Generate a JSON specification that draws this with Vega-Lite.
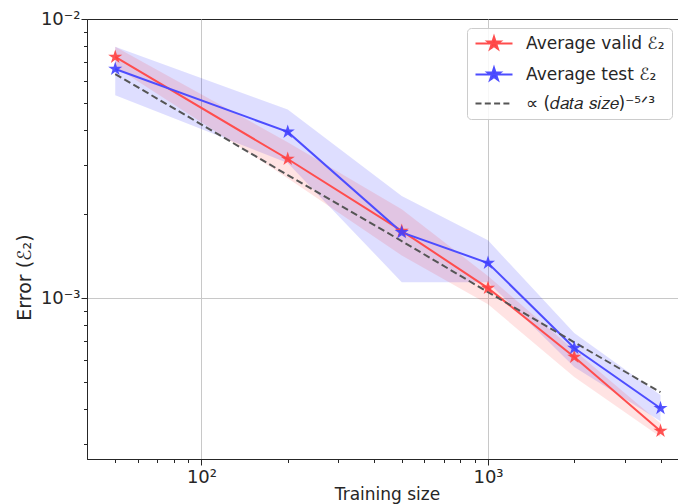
{
  "$schema": "https://vega.github.io/schema/vega-lite/v6.json",
  "width": 591,
  "height": 440,
  "autosize": "none",
  "padding": {"left": 87, "top": 19, "right": 0, "bottom": 45},
  "background": "white",
  "config": {
    "font": "DejaVu Sans",
    "view": {"stroke": "#262626", "strokeWidth": 1},
    "axis": {
      "labelFont": "DejaVu Sans", "labelFontSize": 18, "labelColor": "#262626",
      "titleFont": "DejaVu Sans", "titleFontSize": 17, "titleFontWeight": "normal", "titleColor": "#262626",
      "domainColor": "#262626", "tickColor": "#262626", "gridColor": "#c8c8c8", "gridWidth": 1
    }
  },
  "data": {
    "values": [
      {"size": 50, "series": "valid", "mean": 0.00731, "lo": 0.00675, "hi": 0.00795},
      {"size": 200, "series": "valid", "mean": 0.00315, "lo": 0.00269, "hi": 0.00362},
      {"size": 500, "series": "valid", "mean": 0.00174, "lo": 0.00142, "hi": 0.00208},
      {"size": 1000, "series": "valid", "mean": 0.001086, "lo": 0.00095, "hi": 0.0012},
      {"size": 2000, "series": "valid", "mean": 0.000615, "lo": 0.000521, "hi": 0.00065},
      {"size": 4000, "series": "valid", "mean": 0.000334, "lo": 0.000318, "hi": 0.000356},
      {"size": 50, "series": "test", "mean": 0.00662, "lo": 0.00533, "hi": 0.00796},
      {"size": 200, "series": "test", "mean": 0.00394, "lo": 0.00305, "hi": 0.00474},
      {"size": 500, "series": "test", "mean": 0.00172, "lo": 0.00114, "hi": 0.00232},
      {"size": 1000, "series": "test", "mean": 0.001335, "lo": 0.00114, "hi": 0.00161},
      {"size": 2000, "series": "test", "mean": 0.000662, "lo": 0.000566, "hi": 0.00075},
      {"size": 4000, "series": "test", "mean": 0.000403, "lo": 0.000362, "hi": 0.000449},
      {"size": 50, "series": "fit", "mean": 0.00635},
      {"size": 200, "series": "fit", "mean": 0.00276},
      {"size": 500, "series": "fit", "mean": 0.0016},
      {"size": 1000, "series": "fit", "mean": 0.00105},
      {"size": 2000, "series": "fit", "mean": 0.000694},
      {"size": 4000, "series": "fit", "mean": 0.00046}
    ]
  },
  "encoding": {
    "x": {
      "field": "size", "type": "quantitative",
      "scale": {"type": "log", "domain": [39.85, 4604], "nice": false},
      "axis": {
        "title": "Training size", "titleX": 300, "titlePadding": 0,
        "values": [50, 60, 70, 80, 90, 100, 200, 300, 400, 500, 600, 700, 800, 900, 1000, 2000, 3000, 4000],
        "labelExpr": "datum.value == 100 ? '10²' : (datum.value == 1000 ? '10³' : '')",
        "labelPadding": 3, "labelFlush": false, "labelOverlap": false,
        "tickSize": {"condition": {"test": "datum.value == 100 || datum.value == 1000", "value": 6}, "value": 3.5},
        "grid": true,
        "gridOpacity": {"condition": {"test": "datum.value == 100 || datum.value == 1000", "value": 1}, "value": 0}
      }
    }
  },
  "layer": [
    {
      "transform": [{"filter": "datum.series == 'test'"}],
      "mark": {"type": "area", "color": "#0000ff", "opacity": 0.13},
      "encoding": {
        "y": {
          "field": "lo", "type": "quantitative",
          "scale": {"type": "log", "domain": [0.000265, 0.01], "nice": false},
          "axis": {
            "title": "Error (ℰ₂)", "titleFontSize": 19, "titleY": 258, "titlePadding": 6,
            "values": [0.0003, 0.0004, 0.0005, 0.0006, 0.0007, 0.0008, 0.0009, 0.001, 0.002, 0.003, 0.004, 0.005, 0.006, 0.007, 0.008, 0.009, 0.01],
            "labelExpr": "abs(datum.value - 0.01) < 1e-9 ? '10⁻²' : (abs(datum.value - 0.001) < 1e-10 ? '10⁻³' : '')",
            "labelPadding": 1, "labelFlush": false, "labelOverlap": false,
            "tickSize": {"condition": {"test": "abs(datum.value - 0.01) < 1e-9 || abs(datum.value - 0.001) < 1e-10", "value": 6}, "value": 3.5},
            "grid": true,
            "gridOpacity": {"condition": {"test": "abs(datum.value - 0.001) < 1e-10", "value": 1}, "value": 0}
          }
        },
        "y2": {"field": "hi"}
      }
    },
    {
      "transform": [{"filter": "datum.series == 'valid'"}],
      "mark": {"type": "area", "color": "#ff0000", "opacity": 0.11},
      "encoding": {
        "y": {"field": "lo", "type": "quantitative"},
        "y2": {"field": "hi"}
      }
    },
    {
      "transform": [{"filter": "datum.series != 'fit'"}],
      "mark": {"type": "line", "strokeWidth": 2},
      "encoding": {
        "y": {"field": "mean", "type": "quantitative"},
        "color": {
          "field": "series", "type": "nominal",
          "scale": {"domain": ["valid", "test", "fit"], "range": ["#ff4d4d", "#4d4dff", "#555555"]},
          "legend": {
            "title": null, "orient": "none", "legendX": 380, "legendY": 9,
            "labelFont": "DejaVu Sans", "labelFontSize": 17, "labelColor": "#262626",
            "labelExpr": "datum.value == 'valid' ? 'Average valid ℰ₂' : (datum.value == 'test' ? 'Average test ℰ₂' : '∝ (𝑑𝑎𝑡𝑎 𝑠𝑖𝑧𝑒)⁻⁵ᐟ³')",
            "symbolSize": 196, "symbolStrokeWidth": 1.8,
            "rowPadding": 10, "padding": 7, "labelOffset": 35,
            "strokeColor": "#cccccc", "fillColor": "rgba(255,255,255,0.85)", "cornerRadius": 4,
            "encode": {
              "symbols": {
                "update": {
                  "shape": {"signal": "datum.value == 'fit' ? 'M-1,0L4.286,0' : 'M-1,0L4.286,0M1.643,-1L1.8675,-0.309L2.594,-0.309L2.006,0.118L2.231,0.809L1.643,0.382L1.055,0.809L1.28,0.118L0.692,-0.309L1.4185,-0.309Z'"},
                  "fill": {"signal": "datum.value == 'valid' ? '#ff4040' : (datum.value == 'test' ? '#4040ff' : 'transparent')"},
                  "stroke": {"signal": "datum.value == 'valid' ? '#ff4d4d' : (datum.value == 'test' ? '#4d4dff' : '#555555')"},
                  "strokeDash": {"signal": "datum.value == 'fit' ? [6, 3.3] : [1, 0]"},
                  "strokeWidth": {"value": 1.8},
                  "opacity": {"value": 1}
                }
              }
            }
          }
        }
      }
    },
    {
      "transform": [{"filter": "datum.series == 'fit'"}],
      "mark": {"type": "line", "strokeWidth": 2, "color": "#555555", "strokeDash": [7, 3.5]},
      "encoding": {
        "y": {"field": "mean", "type": "quantitative"}
      }
    },
    {
      "transform": [{"filter": "datum.series == 'valid'"}],
      "mark": {"type": "point", "filled": true, "size": 220, "color": "#ff4040", "opacity": 0.9, "strokeWidth": 0,
        "shape": "M0,-1L0.2245,-0.309L0.951,-0.309L0.363,0.118L0.588,0.809L0,0.382L-0.588,0.809L-0.363,0.118L-0.951,-0.309L-0.2245,-0.309Z"},
      "encoding": {
        "y": {"field": "mean", "type": "quantitative"}
      }
    },
    {
      "transform": [{"filter": "datum.series == 'test'"}],
      "mark": {"type": "point", "filled": true, "size": 220, "color": "#4040ff", "opacity": 0.9, "strokeWidth": 0,
        "shape": "M0,-1L0.2245,-0.309L0.951,-0.309L0.363,0.118L0.588,0.809L0,0.382L-0.588,0.809L-0.363,0.118L-0.951,-0.309L-0.2245,-0.309Z"},
      "encoding": {
        "y": {"field": "mean", "type": "quantitative"}
      }
    }
  ]
}
